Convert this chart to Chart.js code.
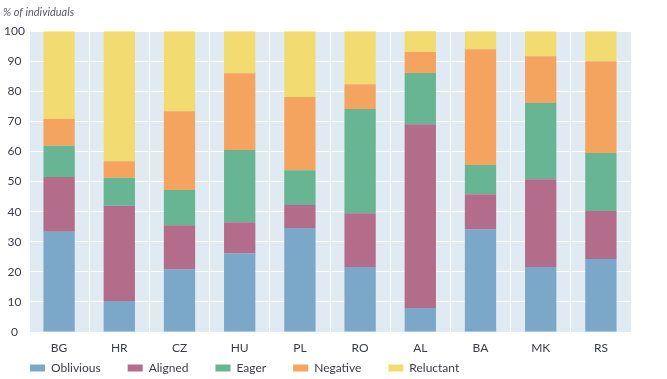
<!DOCTYPE html>
<html>
<head>
<meta charset="utf-8">
<script src="https://cdn.jsdelivr.net/npm/chart.js@4/dist/chart.umd.min.js"></script>
<style>
  html, body { margin: 0; padding: 0; background: #ffffff; }
  #wrap { width: 667px; height: 379px; position: relative; }
</style>
</head>
<body>
<div id="wrap"><canvas id="c" width="667" height="379"></canvas></div>
<script>
const categories = ["BG", "HR", "CZ", "HU", "PL", "RO", "AL", "BA", "MK", "RS"];
const oblivious  = [33.3, 10.3, 20.9, 26.2, 34.6, 21.6,  8.0, 34.2, 21.6, 24.3];
const aligned    = [18.2, 31.7, 14.6, 10.3,  7.6, 17.9, 61.1, 11.6, 29.2, 15.9];
const eager      = [10.4,  9.3, 11.7, 24.0, 11.6, 34.6, 17.0,  9.7, 25.3, 19.3];
const negative   = [ 8.9,  5.5, 26.2, 25.5, 24.3,  8.3,  7.0, 38.5, 15.6, 30.5];
const reluctant  = [29.2, 43.2, 26.6, 14.0, 21.9, 17.6,  7.0,  6.0,  8.3, 10.0];
const yTicks = [0, 10, 20, 30, 40, 50, 60, 70, 80, 90, 100];
const yTitle = "% of individuals";

const FONT = "Lato, 'Open Sans', sans-serif";

const plotBg = {
  id: 'plotBg',
  beforeDraw(chart) {
    const {ctx, chartArea: a} = chart;
    ctx.save();
    ctx.fillStyle = '#e0eaf3';
    ctx.fillRect(a.left, a.top, a.right - a.left, a.bottom - a.top);
    ctx.restore();
  }
};

const mk = (label, data, color) => ({
  label, data, backgroundColor: color, borderWidth: 0,
  barPercentage: 0.52, categoryPercentage: 1.0
});

new Chart(document.getElementById('c'), {
  type: 'bar',
  data: {
    labels: categories,
    datasets: [
      mk('Oblivious', oblivious, '#7ba7c9'),
      mk('Aligned', aligned, '#b36c89'),
      mk('Eager', eager, '#67b592'),
      mk('Negative', negative, '#f4a45e'),
      mk('Reluctant', reluctant, '#f2dc72')
    ]
  },
  options: {
    responsive: false,
    animation: false,
    layout: { padding: { left: 3, right: 36, top: 0, bottom: -5 } },
    plugins: {
      title: {
        display: true, text: yTitle, align: 'start', color: '#5a5a66',
        font: { family: FONT, size: 11, style: 'italic', weight: 'normal' },
        padding: { top: 6, bottom: 12 }
      },
      legend: {
        position: 'bottom', align: 'start',
        labels: {
          boxWidth: 15, boxHeight: 7, padding: 27, color: '#3c3c4a',
          font: { family: FONT, size: 12 }
        }
      },
      tooltip: { enabled: false }
    },
    scales: {
      x: {
        stacked: true,
        grid: { color: '#ffffff', lineWidth: 1, drawTicks: false },
        border: { display: false },
        ticks: { color: '#3c3c4a', font: { family: FONT, size: 12 }, padding: -23, mirror: true },
        afterFit(s) { s.height = 3; }
      },
      y: {
        stacked: true, min: 0, max: 100,
        afterBuildTicks(s) { s.ticks = yTicks.map(v => ({ value: v })); },
        grid: { color: '#ffffff', lineWidth: 1, drawTicks: false },
        border: { display: false },
        ticks: { color: '#3c3c4a', font: { family: FONT, size: 12 }, padding: 4, crossAlign: 'center' },
        afterFit(s) { s.width = 26; }
      }
    }
  },
  plugins: [plotBg]
});
</script>
</body>
</html>
